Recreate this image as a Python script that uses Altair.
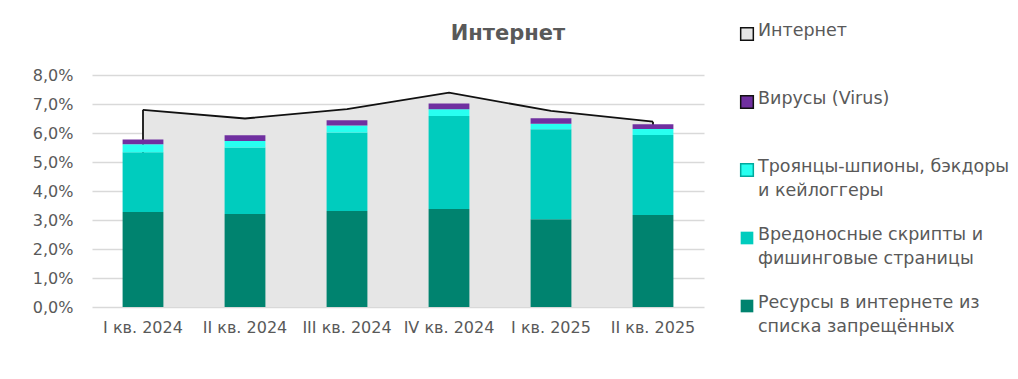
import altair as alt
import pandas as pd

quarters = ["I кв. 2024", "II кв. 2024", "III кв. 2024", "IV кв. 2024", "I кв. 2025", "II кв. 2025"]
banned = [3.28, 3.21, 3.31, 3.38, 3.03, 3.17]
scripts = [2.06, 2.29, 2.71, 3.21, 3.10, 2.76]
trojans = [0.27, 0.22, 0.24, 0.23, 0.19, 0.21]
virus = [0.17, 0.20, 0.18, 0.20, 0.19, 0.16]
internet = [6.80, 6.50, 6.82, 7.39, 6.76, 6.39]

series_names = [
    "Ресурсы в интернете из списка запрещённых",
    "Вредоносные скрипты и фишинговые страницы",
    "Троянцы-шпионы, бэкдоры и кейлоггеры",
    "Вирусы (Virus)",
]
series_fill = ["#00836F", "#00CCBE", "#28FFF0", "#7030A0"]
series_stroke = ["#00836F", "#00CCBE", "#00A99D", "#111111"]
series_sw = [0, 0, 2, 1.5]

legend_labels = [
    "Интернет",
    "Вирусы (Virus)",
    "Троянцы-шпионы, бэкдоры\nи кейлоггеры",
    "Вредоносные скрипты и\nфишинговые страницы",
    "Ресурсы в интернете из\nсписка запрещённых",
]
legend_fill = ["#E6E6E6", "#7030A0", "#28FFF0", "#00CCBE", "#00836F"]
legend_stroke = ["#111111", "#111111", "#00A99D", "#00CCBE", "#00836F"]
legend_sw = [1.5, 1.5, 1.5, 0, 0]

FONT = "DejaVu Sans"
GRAY = "#595959"

rows = []
for i, q in enumerate(quarters):
    for s, vals in enumerate([banned, scripts, trojans, virus]):
        rows.append({"q": q, "series": series_names[s], "ord": s, "v": vals[i]})
bars_df = pd.DataFrame(rows)
tot_df = pd.DataFrame({"q": quarters, "internet": internet, "idx": list(range(len(quarters)))})

xenc = alt.X("q:N", sort=quarters, title=None,
             scale=alt.Scale(paddingInner=0.6, paddingOuter=0.3),
             axis=alt.Axis(labelAngle=0, labelFont=FONT, labelFontSize=16, labelColor=GRAY,
                           ticks=False, domain=False, labelPadding=12))
yscale = alt.Scale(domain=[0, 8])
yaxis = alt.Axis(values=[0, 1, 2, 3, 4, 5, 6, 7, 8],
                 labelExpr="replace(format(datum.value, '.1f'), '.', ',') + '%'",
                 labelFont=FONT, labelFontSize=16, labelColor=GRAY, labelPadding=19,
                 ticks=False, domain=False, gridColor="#D9D9D9", gridWidth=1.5)


def yenc(field):
    return alt.Y(field, scale=yscale, axis=yaxis, title=None)


area = alt.Chart(tot_df).mark_area(color="#E6E6E6", opacity=1).encode(
    x=xenc, y=yenc("internet:Q"))
line = alt.Chart(tot_df).mark_line(color="#111111", strokeWidth=1.8).encode(
    x=xenc, y=yenc("internet:Q"))
edges = alt.Chart(tot_df).transform_filter(
    "datum.idx == 0 || datum.idx == %d" % (len(quarters) - 1)
).mark_rule(color="#111111", strokeWidth=1.8).encode(
    x=xenc, y=yenc("internet:Q"), y2=alt.datum(0))

bars = alt.Chart(bars_df).mark_bar().encode(
    x=xenc,
    y=alt.Y("sum(v):Q", scale=yscale, axis=yaxis, title=None, stack="zero"),
    order=alt.Order("ord:Q"),
    fill=alt.Fill("series:N", scale=alt.Scale(domain=series_names, range=series_fill), legend=None),
    stroke=alt.Stroke("series:N", scale=alt.Scale(domain=series_names, range=series_stroke), legend=None),
    strokeWidth=alt.StrokeWidth("series:N", scale=alt.Scale(domain=series_names, range=series_sw), legend=None),
)

main = alt.layer(area, edges, line, bars).properties(
    width=612, height=232,
    title=alt.TitleParams("Интернет", font=FONT, fontSize=21, fontWeight="bold",
                          color=GRAY, anchor="middle", dx=110, offset=23),
)

leg_df = pd.DataFrame({"label": legend_labels, "idx": list(range(len(legend_labels))),
                       "fill": legend_fill, "stroke": legend_stroke, "sw": legend_sw})
ly = alt.Y("idx:O", scale=alt.Scale(type="point", padding=0, range=[-41, 231]), axis=None)
leg_sq = alt.Chart(leg_df).mark_square(size=160, opacity=1).encode(
    x=alt.value(7), y=ly,
    fill=alt.Fill("fill:N", scale=None),
    stroke=alt.Stroke("stroke:N", scale=None),
    strokeWidth=alt.StrokeWidth("sw:Q", scale=None),
)
leg_tx = alt.Chart(leg_df).mark_text(align="left", baseline="top", dy=-12, font=FONT, fontSize=17.5,
                                     color=GRAY, lineBreak="\n", lineHeight=24).encode(
    x=alt.value(18), y=ly, text="label:N")
legend = alt.layer(leg_sq, leg_tx).properties(width=100, height=232)

chart = alt.hconcat(main, legend, spacing=33).properties(
    padding={"left": 24, "top": 14, "right": 0, "bottom": 0},
    background="white",
).configure_view(stroke="transparent", strokeWidth=0)

chart.save("out.html", embed_options={"renderer": "svg", "actions": False})
